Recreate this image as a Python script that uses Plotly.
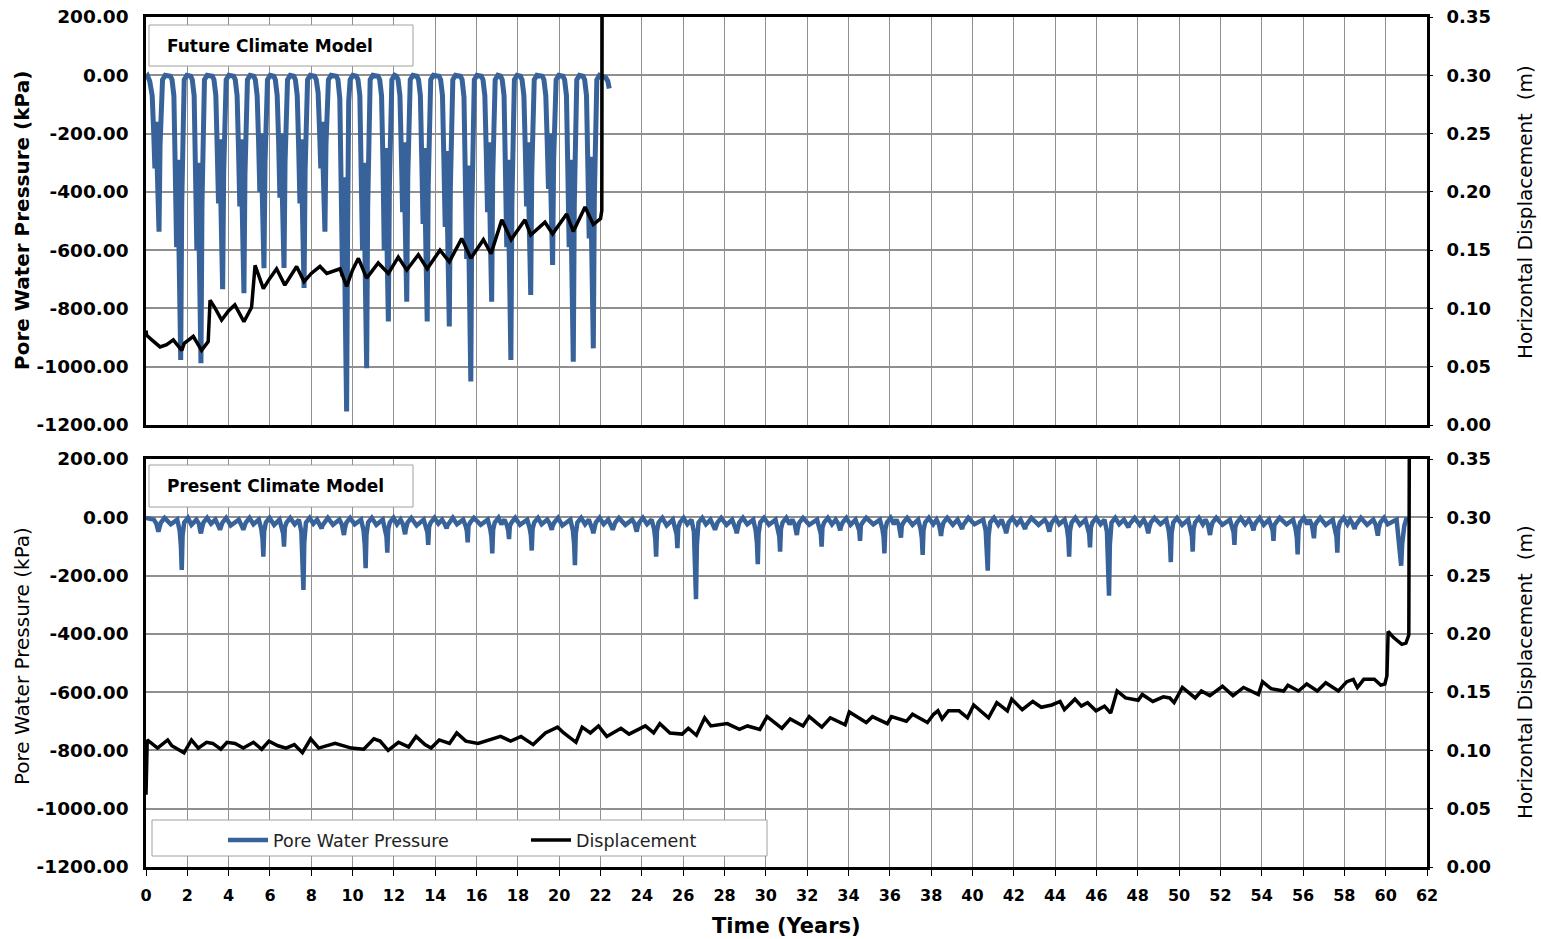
import plotly.graph_objects as go

W, H = 1541, 939

# ---------------- data ----------------
x_ticks = list(range(0, 63, 2))
pwp_ticks = [200, 0, -200, -400, -600, -800, -1000, -1200]
disp_ticks = [0.35, 0.30, 0.25, 0.20, 0.15, 0.10, 0.05, 0.00]

# Future climate model: pore water pressure (kPa)
fut_pwp_t = [
    0.0, 0.08, 0.18, 0.3, 0.37, 0.43, 0.48, 0.55, 0.63, 0.68, 0.73, 0.8, 0.93,
    1.18, 1.26, 1.35, 1.42, 1.48, 1.53, 1.6, 1.68, 1.73, 1.78, 1.85, 1.98,
    2.16, 2.24, 2.33, 2.4, 2.46, 2.51, 2.58, 2.66, 2.71, 2.76, 2.83, 2.96,
    3.21, 3.29, 3.38, 3.45, 3.51, 3.56, 3.63, 3.71, 3.76, 3.81, 3.88, 4.01,
    4.24, 4.32, 4.41, 4.48, 4.54, 4.59, 4.66, 4.74, 4.79, 4.84, 4.91, 5.04,
    5.21, 5.29, 5.38, 5.45, 5.51, 5.56, 5.63, 5.71, 5.76, 5.81, 5.88, 6.01,
    6.18, 6.26, 6.35, 6.42, 6.48, 6.53, 6.6, 6.68, 6.73, 6.78, 6.85, 6.98,
    7.15, 7.23, 7.32, 7.39, 7.45, 7.5, 7.57, 7.65, 7.7, 7.75, 7.82, 7.95,
    8.16, 8.24, 8.33, 8.4, 8.46, 8.51, 8.58, 8.66, 8.71, 8.76, 8.83, 8.96,
    9.21, 9.29, 9.38, 9.45, 9.51, 9.56, 9.63, 9.71, 9.76, 9.81, 9.88, 10.01,
    10.18, 10.26, 10.35, 10.42, 10.48, 10.53, 10.6, 10.68, 10.73, 10.78, 10.85, 10.98,
    11.23, 11.31, 11.4, 11.47, 11.53, 11.58, 11.65, 11.73, 11.78, 11.83, 11.9, 12.03,
    12.12, 12.2, 12.29, 12.36, 12.42, 12.47, 12.54, 12.62, 12.67, 12.72, 12.79, 12.92,
    13.11, 13.19, 13.28, 13.35, 13.41, 13.46, 13.53, 13.61, 13.66, 13.71, 13.78, 13.91,
    14.18, 14.26, 14.35, 14.42, 14.48, 14.53, 14.6, 14.68, 14.73, 14.78, 14.85, 14.98,
    15.22, 15.3, 15.39, 15.46, 15.52, 15.57, 15.64, 15.72, 15.77, 15.82, 15.89, 16.02,
    16.23, 16.31, 16.4, 16.47, 16.53, 16.58, 16.65, 16.73, 16.78, 16.83, 16.9, 17.03,
    17.16, 17.24, 17.33, 17.4, 17.46, 17.51, 17.58, 17.66, 17.71, 17.76, 17.83, 17.96,
    18.12, 18.2, 18.29, 18.36, 18.42, 18.47, 18.54, 18.62, 18.67, 18.72, 18.79, 18.92,
    19.18, 19.26, 19.35, 19.42, 19.48, 19.53, 19.6, 19.68, 19.73, 19.78, 19.85, 19.98,
    20.18, 20.26, 20.35, 20.42, 20.48, 20.53, 20.6, 20.68, 20.73, 20.78, 20.85, 20.98,
    21.15, 21.23, 21.32, 21.39, 21.45, 21.5, 21.57, 21.65, 21.7, 21.75, 21.82, 21.95,
    22.1, 22.25, 22.35, 22.42,
]
fut_pwp_v = [
    -10, -3, -20, -70, -190, -320, -160, -300, -537, -240, -90, -15, 0,
    -3, -15, -70, -340, -590, -290, -540, -977, -440, -90, -15, 0,
    -3, -15, -70, -350, -600, -300, -540, -988, -440, -90, -15, 0,
    -3, -15, -70, -260, -440, -220, -400, -734, -330, -90, -15, 0,
    -3, -15, -70, -260, -450, -220, -410, -748, -340, -90, -15, 0,
    -3, -15, -70, -230, -400, -200, -360, -662, -300, -90, -15, 0,
    -3, -15, -70, -230, -420, -200, -360, -661, -300, -90, -15, 0,
    -3, -15, -70, -250, -440, -220, -400, -730, -330, -90, -15, 0,
    -3, -15, -60, -190, -320, -160, -300, -537, -240, -90, -15, 0,
    -3, -15, -80, -400, -690, -350, -630, -1154, -520, -90, -15, 0,
    -3, -15, -70, -350, -600, -300, -550, -1005, -450, -90, -15, 0,
    -3, -15, -70, -300, -600, -250, -460, -845, -380, -90, -15, 0,
    -3, -15, -70, -270, -470, -230, -430, -777, -350, -90, -15, 0,
    -3, -15, -70, -300, -510, -250, -460, -845, -380, -90, -15, 0,
    -3, -15, -70, -300, -520, -260, -470, -862, -390, -90, -15, 0,
    -3, -15, -75, -370, -630, -310, -580, -1051, -470, -90, -15, 0,
    -3, -15, -70, -270, -470, -230, -430, -777, -350, -90, -15, 0,
    -3, -15, -70, -340, -590, -290, -540, -977, -440, -90, -15, 0,
    -3, -15, -70, -260, -450, -230, -410, -754, -340, -90, -15, 0,
    -3, -15, -70, -230, -390, -200, -360, -651, -290, -90, -15, 0,
    -3, -15, -70, -340, -590, -290, -540, -983, -440, -90, -15, 0,
    -3, -15, -70, -330, -560, -280, -510, -937, -420, -90, -15, 0,
    -3, -8, -20, -45,
]

# Future climate model: horizontal displacement (m)
fut_disp_t = [
    0.0, 0.03, 0.35, 0.68, 1.0, 1.32, 1.73, 1.85, 2.29, 2.69, 3.01, 3.1, 3.35,
    3.66, 4.0, 4.3, 4.74, 4.95, 5.11, 5.28, 5.68, 6.0, 6.32, 6.72, 7.0, 7.29,
    7.65, 8.0, 8.42, 8.75, 9.39, 9.71, 10.0, 10.28, 10.68, 11.24, 11.73, 12.21,
    12.62, 13.18, 13.61, 14.23, 14.68, 15.28, 15.72, 16.33, 16.7, 17.22, 17.67,
    18.34, 18.62, 19.31, 19.68, 20.36, 20.68, 21.25, 21.65, 22.0, 22.06, 22.08,
]
fut_disp_v = [
    0.081, 0.077, 0.072, 0.067, 0.069, 0.073, 0.064, 0.070, 0.076, 0.064, 0.0715, 0.107, 0.100,
    0.090, 0.098, 0.103, 0.0886, 0.095, 0.101, 0.137, 0.117, 0.126, 0.134, 0.120, 0.128, 0.136,
    0.123, 0.130, 0.136, 0.130, 0.134, 0.119, 0.133, 0.143, 0.126, 0.139, 0.130, 0.144,
    0.133, 0.146, 0.134, 0.150, 0.140, 0.160, 0.143, 0.159, 0.147, 0.176, 0.159,
    0.176, 0.163, 0.174, 0.164, 0.181, 0.166, 0.187, 0.172, 0.177, 0.184, 0.40,
]

# Present climate model: pore water pressure (kPa)
pres_pwp_t = [
    0.0, 0.38, 0.5, 0.56, 0.6, 0.64, 0.72, 0.9, 1.2,
    1.51, 1.63, 1.69, 1.73, 1.77, 1.85, 2.03, 2.2,
    2.44, 2.56, 2.62, 2.66, 2.7, 2.78, 2.96, 3.15,
    3.36, 3.48, 3.54, 3.58, 3.62, 3.7, 3.88, 4.1,
    4.49, 4.61, 4.67, 4.71, 4.75, 4.83, 5.01, 5.2,
    5.46, 5.58, 5.64, 5.68, 5.72, 5.8, 5.98, 6.2,
    6.46, 6.58, 6.64, 6.68, 6.72, 6.8, 6.98, 7.2,
    7.4, 7.52, 7.58, 7.62, 7.66, 7.74, 7.92, 8.1,
    8.28, 8.4, 8.46, 8.5, 8.54, 8.62, 8.8, 9.05,
    9.36, 9.48, 9.54, 9.58, 9.62, 9.7, 9.88, 10.1,
    10.41, 10.53, 10.59, 10.63, 10.67, 10.75, 10.93, 11.15,
    11.46, 11.58, 11.64, 11.68, 11.72, 11.8, 11.98, 12.15,
    12.32, 12.44, 12.5, 12.54, 12.58, 12.66, 12.84, 13.1,
    13.44, 13.56, 13.62, 13.66, 13.7, 13.78, 13.96, 14.15,
    14.33, 14.45, 14.51, 14.55, 14.59, 14.67, 14.85, 15.05,
    15.35, 15.47, 15.53, 15.57, 15.61, 15.69, 15.87, 16.2,
    16.54, 16.66, 16.72, 16.76, 16.8, 16.88, 17.06, 17.2,
    17.35, 17.47, 17.53, 17.57, 17.61, 17.69, 17.87, 18.1,
    18.45, 18.57, 18.63, 18.67, 18.71, 18.79, 18.97, 19.15,
    19.42, 19.54, 19.6, 19.64, 19.68, 19.76, 19.94, 20.15,
    20.54, 20.66, 20.72, 20.76, 20.8, 20.88, 21.06, 21.25,
    21.43, 21.55, 21.61, 21.65, 21.69, 21.77, 21.95, 22.15,
    22.37, 22.49, 22.55, 22.59, 22.63, 22.71, 22.89, 23.2,
    23.53, 23.65, 23.71, 23.75, 23.79, 23.87, 24.05, 24.25,
    24.47, 24.59, 24.65, 24.69, 24.73, 24.81, 24.99, 25.2,
    25.5, 25.62, 25.68, 25.72, 25.76, 25.84, 26.02, 26.2,
    26.4, 26.52, 26.58, 26.62, 26.66, 26.74, 26.92, 27.1,
    27.32, 27.44, 27.5, 27.54, 27.58, 27.66, 27.84, 28.1,
    28.37, 28.49, 28.55, 28.59, 28.63, 28.71, 28.89, 29.1,
    29.39, 29.51, 29.57, 29.61, 29.65, 29.73, 29.91, 30.15,
    30.47, 30.59, 30.65, 30.69, 30.73, 30.81, 30.99, 31.15,
    31.28, 31.4, 31.46, 31.5, 31.54, 31.62, 31.8, 32.1,
    32.48, 32.6, 32.66, 32.7, 32.74, 32.82, 33.0, 33.2,
    33.38, 33.5, 33.56, 33.6, 33.64, 33.72, 33.9, 34.1,
    34.34, 34.46, 34.52, 34.56, 34.6, 34.68, 34.86, 35.2,
    35.52, 35.64, 35.7, 35.74, 35.78, 35.86, 36.04, 36.2,
    36.32, 36.44, 36.5, 36.54, 36.58, 36.66, 36.84, 37.1,
    37.37, 37.49, 37.55, 37.59, 37.63, 37.71, 37.89, 38.1,
    38.26, 38.38, 38.44, 38.48, 38.52, 38.6, 38.78, 39.05,
    39.28, 39.4, 39.46, 39.5, 39.54, 39.62, 39.8, 40.1,
    40.52, 40.64, 40.7, 40.74, 40.78, 40.86, 41.04, 41.25,
    41.41, 41.53, 41.59, 41.63, 41.67, 41.75, 41.93, 42.15,
    42.33, 42.45, 42.51, 42.55, 42.59, 42.67, 42.85, 43.2,
    43.5, 43.62, 43.68, 43.72, 43.76, 43.84, 44.02, 44.2,
    44.46, 44.58, 44.64, 44.68, 44.72, 44.8, 44.98, 45.2,
    45.47, 45.59, 45.65, 45.69, 45.73, 45.81, 45.99, 46.2,
    46.39, 46.51, 46.57, 46.61, 46.65, 46.73, 46.91, 47.1,
    47.33, 47.45, 47.51, 47.55, 47.59, 47.67, 47.85, 48.1,
    48.29, 48.41, 48.47, 48.51, 48.55, 48.63, 48.81, 49.1,
    49.38, 49.5, 49.56, 49.6, 49.64, 49.72, 49.9, 50.15,
    50.44, 50.56, 50.62, 50.66, 50.7, 50.78, 50.96, 51.15,
    51.28, 51.4, 51.46, 51.5, 51.54, 51.62, 51.8, 52.1,
    52.46, 52.58, 52.64, 52.68, 52.72, 52.8, 52.98, 53.2,
    53.38, 53.5, 53.56, 53.6, 53.64, 53.72, 53.9, 54.1,
    54.35, 54.47, 54.53, 54.57, 54.61, 54.69, 54.87, 55.2,
    55.52, 55.64, 55.7, 55.74, 55.78, 55.86, 56.04, 56.2,
    56.31, 56.43, 56.49, 56.53, 56.57, 56.65, 56.83, 57.1,
    57.44, 57.56, 57.62, 57.66, 57.7, 57.78, 57.96, 58.15,
    58.28, 58.4, 58.46, 58.5, 58.54, 58.62, 58.8, 59.1,
    59.4, 59.52, 59.58, 59.62, 59.66, 59.74, 59.92, 60.1,
    60.53, 60.6, 60.65, 60.7, 60.75, 60.8, 60.9, 61.02,
]
pres_pwp_v = [
    -2, -8, -22, -40, -49, -38, -18, -2, -24,
    -8, -45, -100, -181, -63, -18, -2, -26,
    -8, -22, -45, -55, -40, -18, -2, -22,
    -8, -22, -35, -43, -30, -18, -2, -28,
    -8, -22, -35, -43, -30, -18, -2, -24,
    -8, -40, -74, -135, -47, -18, -2, -26,
    -8, -35, -56, -101, -35, -18, -2, -24,
    -8, -50, -137, -249, -87, -18, -2, -22,
    -8, -22, -32, -38, -28, -18, -2, -26,
    -8, -25, -45, -61, -40, -18, -2, -24,
    -8, -45, -96, -175, -61, -18, -2, -26,
    -8, -40, -67, -121, -42, -18, -2, -24,
    -8, -25, -45, -58, -40, -18, -2, -28,
    -8, -35, -52, -95, -33, -18, -2, -22,
    -8, -22, -32, -38, -28, -18, -2, -24,
    -8, -30, -47, -86, -30, -18, -2, -26,
    -8, -40, -68, -124, -43, -18, -2, -24,
    -8, -28, -45, -75, -30, -18, -2, -26,
    -8, -38, -63, -114, -40, -18, -2, -24,
    -8, -22, -35, -43, -30, -18, -2, -28,
    -8, -45, -90, -164, -57, -18, -2, -24,
    -8, -25, -42, -55, -38, -18, -2, -24,
    -8, -22, -35, -43, -30, -18, -2, -26,
    -8, -22, -40, -49, -35, -18, -2, -24,
    -8, -40, -74, -135, -47, -18, -2, -28,
    -8, -36, -58, -106, -37, -18, -2, -24,
    -8, -50, -155, -281, -98, -18, -2, -24,
    -8, -22, -35, -43, -30, -18, -2, -26,
    -8, -25, -42, -55, -38, -18, -2, -24,
    -8, -45, -89, -161, -56, -18, -2, -26,
    -8, -38, -65, -118, -41, -18, -2, -24,
    -8, -25, -45, -61, -40, -18, -2, -26,
    -8, -35, -56, -101, -35, -18, -2, -24,
    -8, -22, -36, -45, -31, -18, -2, -26,
    -8, -30, -45, -81, -28, -18, -2, -24,
    -8, -40, -68, -124, -43, -18, -2, -24,
    -8, -27, -45, -70, -30, -18, -2, -26,
    -8, -40, -71, -129, -45, -18, -2, -24,
    -8, -26, -45, -64, -40, -18, -2, -26,
    -8, -22, -32, -40, -28, -18, -2, -24,
    -8, -45, -101, -183, -64, -18, -2, -26,
    -8, -25, -42, -55, -38, -18, -2, -24,
    -8, -22, -32, -40, -28, -18, -2, -26,
    -8, -22, -40, -49, -35, -18, -2, -24,
    -8, -40, -74, -135, -47, -18, -2, -26,
    -8, -35, -57, -103, -36, -18, -2, -24,
    -8, -50, -148, -269, -94, -18, -2, -24,
    -8, -20, -30, -35, -25, -18, -2, -26,
    -8, -25, -42, -55, -38, -18, -2, -24,
    -8, -45, -85, -154, -54, -18, -2, -26,
    -8, -38, -65, -118, -41, -18, -2, -24,
    -8, -25, -45, -61, -40, -18, -2, -26,
    -8, -35, -52, -95, -33, -18, -2, -24,
    -8, -22, -36, -45, -31, -18, -2, -26,
    -8, -30, -45, -81, -28, -18, -2, -24,
    -8, -40, -70, -127, -44, -18, -2, -24,
    -8, -27, -45, -72, -30, -18, -2, -26,
    -8, -40, -67, -121, -42, -18, -2, -24,
    -8, -22, -32, -40, -28, -18, -2, -26,
    -8, -26, -45, -63, -40, -18, -2, -24,
    -8, -60, -100, -140, -166, -90, -30, 0,
]

# Present climate model: horizontal displacement (m)
pres_disp_t = [
    0.0, 0.02, 0.06, 0.56, 1.05, 1.25, 1.84, 2.2, 2.53, 2.93, 3.23, 3.62, 3.92,
    4.31, 4.71, 5.2, 5.6, 5.95, 6.39, 6.78, 7.18, 7.57, 7.97, 8.36, 9.15, 9.94,
    10.54, 11.03, 11.33, 11.72, 12.22, 12.71, 13.07, 13.5, 13.8, 14.19, 14.69,
    15.04, 15.48, 16.07, 17.16, 17.65, 18.15, 18.74, 19.33, 19.92, 20.22, 20.81,
    21.11, 21.51, 21.9, 22.3, 22.99, 23.38, 24.17, 24.57, 24.87, 25.36, 25.95,
    26.25, 26.64, 27.04, 27.34, 28.13, 28.72, 29.11, 29.71, 30.06, 30.5,
    30.78, 31.18, 31.8, 32.1, 32.71, 33.12, 33.84, 34.04, 34.86, 35.16, 35.88,
    36.08, 36.8, 37.1, 37.82, 38.12, 38.33, 38.53, 38.84, 39.35, 39.76, 40.06,
    40.78, 41.18, 41.69, 41.9, 42.41, 42.92, 43.33, 43.84, 44.24, 44.45, 44.96,
    45.27, 45.57, 45.98, 46.39, 46.69, 47.0, 47.41, 48.02, 48.22, 48.73, 49.24,
    49.55, 49.76, 50.16, 50.78, 51.08, 51.49, 52.1, 52.61, 53.12, 53.84, 54.04,
    54.45, 55.06, 55.27, 55.78, 56.18, 56.69, 57.1, 57.71, 58.12, 58.43, 58.63,
    58.94, 59.45, 59.76, 59.96, 60.06, 60.12, 60.37, 60.78, 60.98, 61.12, 61.15,
]
pres_disp_v = [
    0.062, 0.085, 0.109, 0.102, 0.109, 0.104, 0.098, 0.109, 0.102, 0.107, 0.106, 0.101, 0.107,
    0.106, 0.102, 0.107, 0.101, 0.108, 0.104, 0.102, 0.105, 0.098, 0.110, 0.102, 0.106, 0.102,
    0.101, 0.110, 0.108, 0.100, 0.107, 0.103, 0.112, 0.105, 0.102, 0.109, 0.106,
    0.115, 0.108, 0.106, 0.112, 0.108, 0.112, 0.105, 0.115, 0.120, 0.115, 0.107,
    0.120, 0.115, 0.121, 0.112, 0.119, 0.114, 0.121, 0.115, 0.123, 0.115, 0.114,
    0.119, 0.113, 0.128, 0.121, 0.123, 0.118, 0.121, 0.118, 0.129, 0.123,
    0.119, 0.127, 0.121, 0.129, 0.120, 0.128, 0.122, 0.133, 0.124, 0.129, 0.123,
    0.129, 0.125, 0.131, 0.124, 0.131, 0.134, 0.127, 0.134, 0.134, 0.128, 0.139,
    0.128, 0.141, 0.134, 0.144, 0.135, 0.142, 0.137, 0.139, 0.142, 0.135, 0.144,
    0.138, 0.141, 0.134, 0.138, 0.132, 0.151, 0.145, 0.143, 0.148, 0.142, 0.146,
    0.145, 0.141, 0.154, 0.145, 0.151, 0.147, 0.155, 0.147, 0.154, 0.148, 0.159,
    0.153, 0.151, 0.156, 0.151, 0.157, 0.151, 0.158, 0.151, 0.159, 0.161, 0.154,
    0.161, 0.161, 0.156, 0.157, 0.164, 0.202, 0.197, 0.191, 0.192, 0.199, 0.40,
]

# ---------------- styling / layout helpers ----------------
BLUE = "#38639A"
GRID = "#8f8f8f"
FONT = "DejaVu Sans"

def px(x):
    return x / W

def py(y):
    return 1 - y / H

X0, X1 = 146, 1427
TOP = (17, 425)
BOT = (459, 867)

fig = go.Figure()

fig.add_trace(go.Scatter(x=fut_pwp_t, y=fut_pwp_v, mode="lines", name="Pore Water Pressure",
                         line=dict(color=BLUE, width=5), xaxis="x", yaxis="y", showlegend=False))
fig.add_trace(go.Scatter(x=fut_disp_t, y=fut_disp_v, mode="lines", name="Displacement",
                         line=dict(color="black", width=3.5), xaxis="x", yaxis="y2", showlegend=False))
fig.add_trace(go.Scatter(x=pres_pwp_t, y=pres_pwp_v, mode="lines", name="Pore Water Pressure",
                         line=dict(color=BLUE, width=4.5), xaxis="x2", yaxis="y3"))
fig.add_trace(go.Scatter(x=pres_disp_t, y=pres_disp_v, mode="lines", name="Displacement",
                         line=dict(color="black", width=3.5), xaxis="x2", yaxis="y4"))

pwp_text = ["%.2f" % v for v in pwp_ticks]
disp_text = ["%.2f" % v for v in disp_ticks]

xcommon = dict(range=[0, 62], tickvals=x_ticks, showgrid=True, gridcolor=GRID, gridwidth=1,
               showline=True, linecolor="black", linewidth=2.5, mirror=True, zeroline=False,
               domain=[px(X0), px(X1)], automargin=False)
ylcommon = dict(range=[-1200, 200], tickvals=pwp_ticks, ticktext=pwp_text, showgrid=True,
                gridcolor=GRID, gridwidth=2, showline=True, linecolor="black", linewidth=2.5,
                mirror=True, zeroline=False, ticks="", ticklabelstandoff=11,
                tickfont=dict(family=FONT, size=18.5, color="black", weight="bold"), automargin=False)
yrcommon = dict(range=[0, 0.35], tickvals=disp_ticks, ticktext=disp_text, showgrid=False,
                zeroline=False, side="right", ticks="outside", ticklen=5, tickcolor="black",
                ticklabelstandoff=10, showline=False,
                tickfont=dict(family=FONT, size=18, color="black", weight="bold"), automargin=False)

fig.update_layout(
    width=W, height=H,
    margin=dict(l=0, r=0, t=0, b=0),
    paper_bgcolor="white", plot_bgcolor="white",
    xaxis=dict(**xcommon, anchor="y", showticklabels=False, ticks=""),
    xaxis2=dict(**xcommon, anchor="y3", matches="x", showticklabels=True, ticks="outside",
                ticklen=6, tickcolor="black", ticklabelstandoff=6,
                tickfont=dict(family=FONT, size=16, color="black", weight="bold")),
    yaxis=dict(**ylcommon, domain=[py(TOP[1]), py(TOP[0])], anchor="x"),
    yaxis2=dict(**yrcommon, overlaying="y", anchor="x"),
    yaxis3=dict(**ylcommon, domain=[py(BOT[1]), py(BOT[0])], anchor="x2"),
    yaxis4=dict(**yrcommon, overlaying="y3", anchor="x2"),
    showlegend=True,
    legend=dict(orientation="h", x=px(223), y=py(822), xanchor="left", yanchor="top",
                bgcolor="rgba(0,0,0,0)", borderwidth=0, entrywidth=248, entrywidthmode="pixels",
                font=dict(family=FONT, size=17.5, color="#222222"), itemwidth=40),
)

shapes = [
    dict(type="rect", xref="paper", yref="paper", x0=px(149), x1=px(413), y0=py(25), y1=py(66),
         line=dict(color="#a0a0a0", width=1), fillcolor="white", layer="above"),
    dict(type="rect", xref="paper", yref="paper", x0=px(149), x1=px(413), y0=py(465), y1=py(507),
         line=dict(color="#a0a0a0", width=1), fillcolor="white", layer="above"),
    dict(type="rect", xref="paper", yref="paper", x0=px(152), x1=px(767), y0=py(820), y1=py(856),
         line=dict(color="#a0a0a0", width=1), fillcolor="white", layer="above"),
]
fig.update_layout(shapes=shapes)

ann = []
ann.append(dict(text="<b>Future Climate Model</b>", x=px(165), y=py(46), xanchor="left", yanchor="middle",
                font=dict(family=FONT, size=17, color="black")))
ann.append(dict(text="<b>Present Climate Model</b>", x=px(165), y=py(486), xanchor="left", yanchor="middle",
                font=dict(family=FONT, size=17, color="black")))
ann.append(dict(text="<b>Pore Water Pressure (kPa)</b>", x=px(22), y=py(221), textangle=-90,
                xanchor="center", yanchor="middle", font=dict(family=FONT, size=20, color="black")))
ann.append(dict(text="Pore Water Pressure (kPa)", x=px(22), y=py(656), textangle=-90,
                xanchor="center", yanchor="middle", font=dict(family=FONT, size=20, color="black")))
ann.append(dict(text="Horizontal Displacement \u00a0(m)", x=px(1525), y=py(212), textangle=-90,
                xanchor="center", yanchor="middle", font=dict(family=FONT, size=20, color="black")))
ann.append(dict(text="Horizontal Displacement \u00a0(m)", x=px(1525), y=py(672), textangle=-90,
                xanchor="center", yanchor="middle", font=dict(family=FONT, size=20, color="black")))
ann.append(dict(text="<b>Time (Years)</b>", x=px(786), y=py(926), xanchor="center", yanchor="middle",
                font=dict(family=FONT, size=21, color="black")))
for a in ann:
    a.update(xref="paper", yref="paper", showarrow=False)
fig.update_layout(annotations=ann)

fig.write_html("out.html", config={"displayModeBar": False},
               post_script="document.body.style.margin='0px';document.body.style.overflow='hidden';")
